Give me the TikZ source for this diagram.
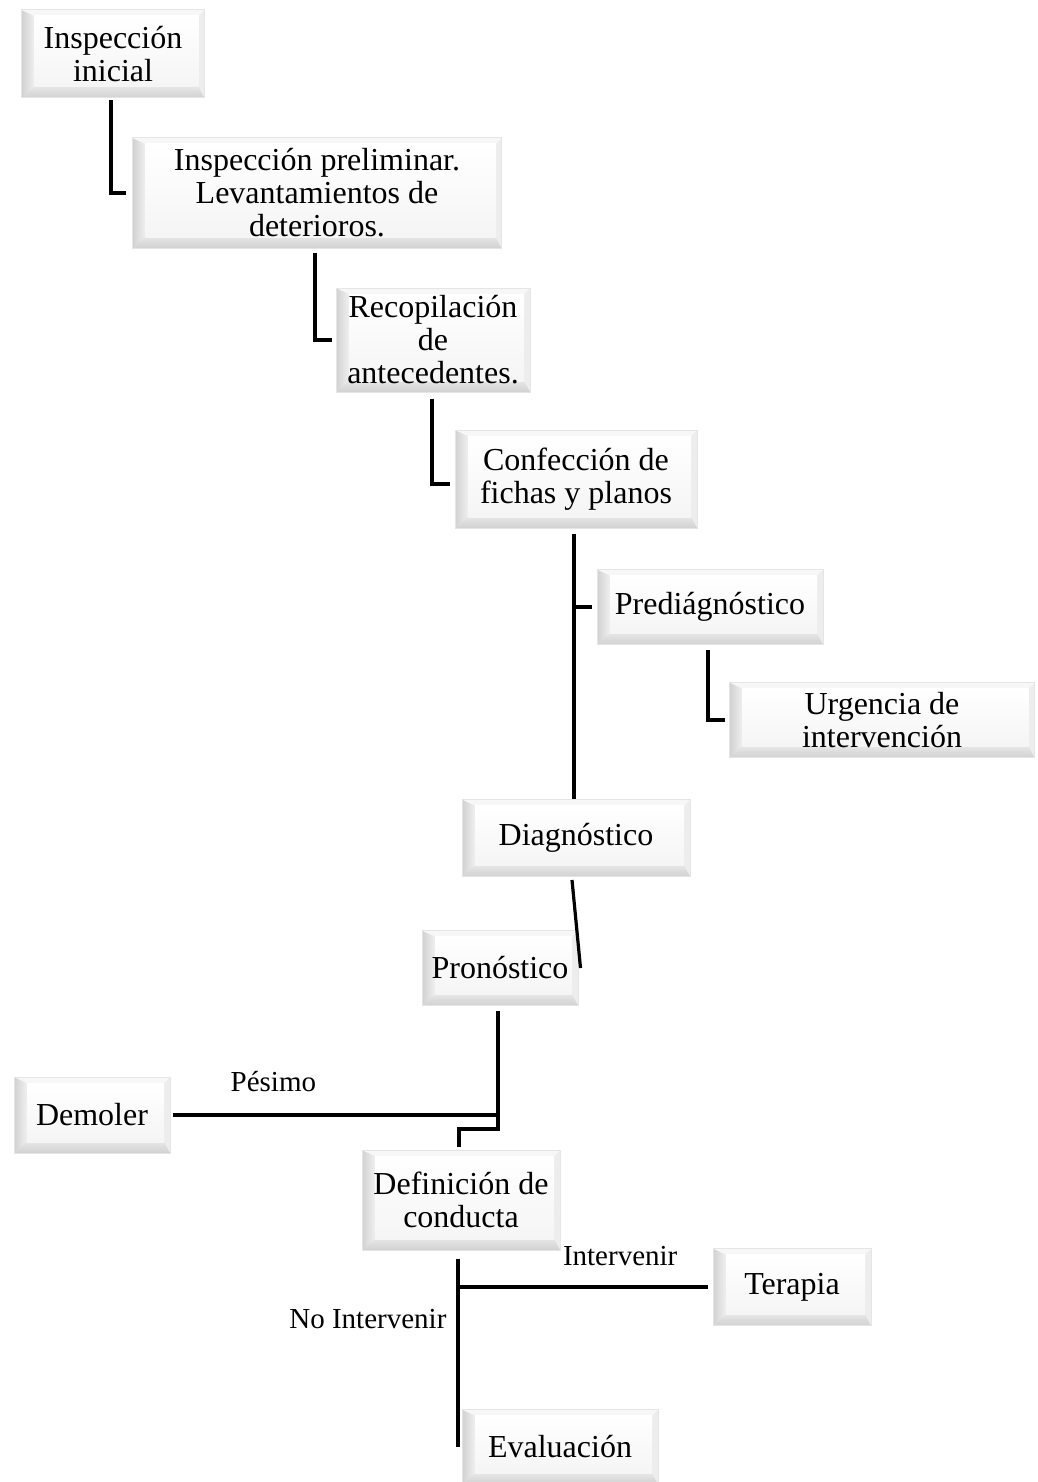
\documentclass[tikz,border=0pt]{standalone}
\usepackage{fontspec}
\setmainfont{Liberation Serif}
\usetikzlibrary{positioning,calc}
\newcommand\boxfont{\fontsize{32}{33}\selectfont}
\newcommand\lblfont{\fontsize{29}{30}\selectfont}
\tikzset{
blk/.style={rectangle,inner sep=0pt,align=center,font=\boxfont,draw=black!10,line width=1pt,
  path picture={
    \fill[black!7] (path picture bounding box.south west) rectangle (path picture bounding box.north east);
    \shade[left color=black!18,right color=black!6] (path picture bounding box.north west) -- (path picture bounding box.south west)
      -- ([xshift=13pt,yshift=11pt]path picture bounding box.south west) -- ([xshift=13pt,yshift=-6pt]path picture bounding box.north west) -- cycle;
    \shade[top color=black!10,bottom color=black!18] (path picture bounding box.south west) -- (path picture bounding box.south east)
      -- ([xshift=-6pt,yshift=11pt]path picture bounding box.south east) -- ([xshift=13pt,yshift=11pt]path picture bounding box.south west) -- cycle;
    \fill[black!3] (path picture bounding box.north west) -- (path picture bounding box.north east)
      -- ([xshift=-6pt,yshift=-6pt]path picture bounding box.north east) -- ([xshift=13pt,yshift=-6pt]path picture bounding box.north west) -- cycle;
    \shade[top color=white,bottom color=black!4] ([xshift=13pt,yshift=-6pt]path picture bounding box.north west) rectangle ([xshift=-6pt,yshift=11pt]path picture bounding box.south east);
  }},
ln/.style={line width=3.2pt},
lbl/.style={font=\lblfont,inner sep=0pt},
}
\begin{document}
\begin{tikzpicture}[x=1pt,y=-1pt]
	\useasboundingbox (0,0) rectangle (1037,1482);
	\node[blk,minimum width=183,minimum height=88] (ini) at (113,54) {Inspección\\inicial};
	\node[blk,minimum width=369,minimum height=110] (pre) at (317,193) {Inspección preliminar.\\Levantamientos de\\deterioros.};
	\node[blk,minimum width=194,minimum height=104] (rec) at (433,340) {Recopilación\\de\\antecedentes.};
	\node[blk,minimum width=242,minimum height=98] (con) at (576,479) {Confección de\\fichas y planos};
	\node[blk,minimum width=226,minimum height=75] (pdx) at (710,607) {Prediágnóstico};
	\node[blk,minimum width=305,minimum height=75] (urg) at (882,720) {Urgencia de\\intervención};
	\node[blk,minimum width=228,minimum height=77] (dia) at (576,838) {Diagnóstico};
	\node[blk,minimum width=156,minimum height=75] (pro) at (500,968) {Pronóstico};
	\node[blk,minimum width=156,minimum height=76] (dem) at (92,1115) {Demoler};
	\node[blk,minimum width=198,minimum height=100] (def) at (461,1200) {Definición de\\conducta};
	\node[blk,minimum width=158,minimum height=77] (ter) at (792,1287) {Terapia};
	\node[blk,minimum width=196,minimum height=75] (eva) at (560,1447) {Evaluación};

	\coordinate (tk4) at ([xshift=-2pt]con.south);
	\coordinate (tk8) at ([xshift=-2pt]pro.south);
	\coordinate (tk10) at ([xshift=-3pt]def.south);

	\draw[ln] ([xshift=-2pt,yshift=-2pt]ini.south) |- ([xshift=-6pt]pre.west);
	\draw[ln] ([xshift=-2pt,yshift=-4pt]pre.south) |- ([xshift=-4pt]rec.west);
	\draw[ln] ([xshift=-1pt,yshift=-6pt]rec.south) |- ([xshift=-5pt,yshift=-5pt]con.west);
	\draw[ln] ([yshift=-5pt]tk4) -- ([xshift=-2pt]dia.north);
	\draw[ln] (tk4 |- pdx.west) -- ([xshift=-5pt]pdx.west);
	\draw[ln] ([xshift=-2pt,yshift=-5pt]pdx.south) |- ([xshift=-4pt]urg.west);
	\draw[ln] ([xshift=-4pt,yshift=-3pt]dia.south) -- ([xshift=2pt]pro.east);
	\draw[ln] ([yshift=-5pt]tk8) -- ++(0,118) -| ([xshift=-2pt,yshift=3pt]def.north);
	\draw[ln] ([xshift=2pt]dem.east) -- node[lbl,pos=0.31,above=22pt] {Pésimo} (dem.east -| tk8);
	\draw[ln] ([yshift=-8pt]tk10) -- node[lbl,pos=0.32,left=10pt] {No Intervenir} (tk10 |- eva.west);
	\draw[ln] (tk10 |- ter.west) -- node[lbl,pos=0.65,above=20pt] {Intervenir} ([xshift=-5pt]ter.west);
\end{tikzpicture}
\end{document}
